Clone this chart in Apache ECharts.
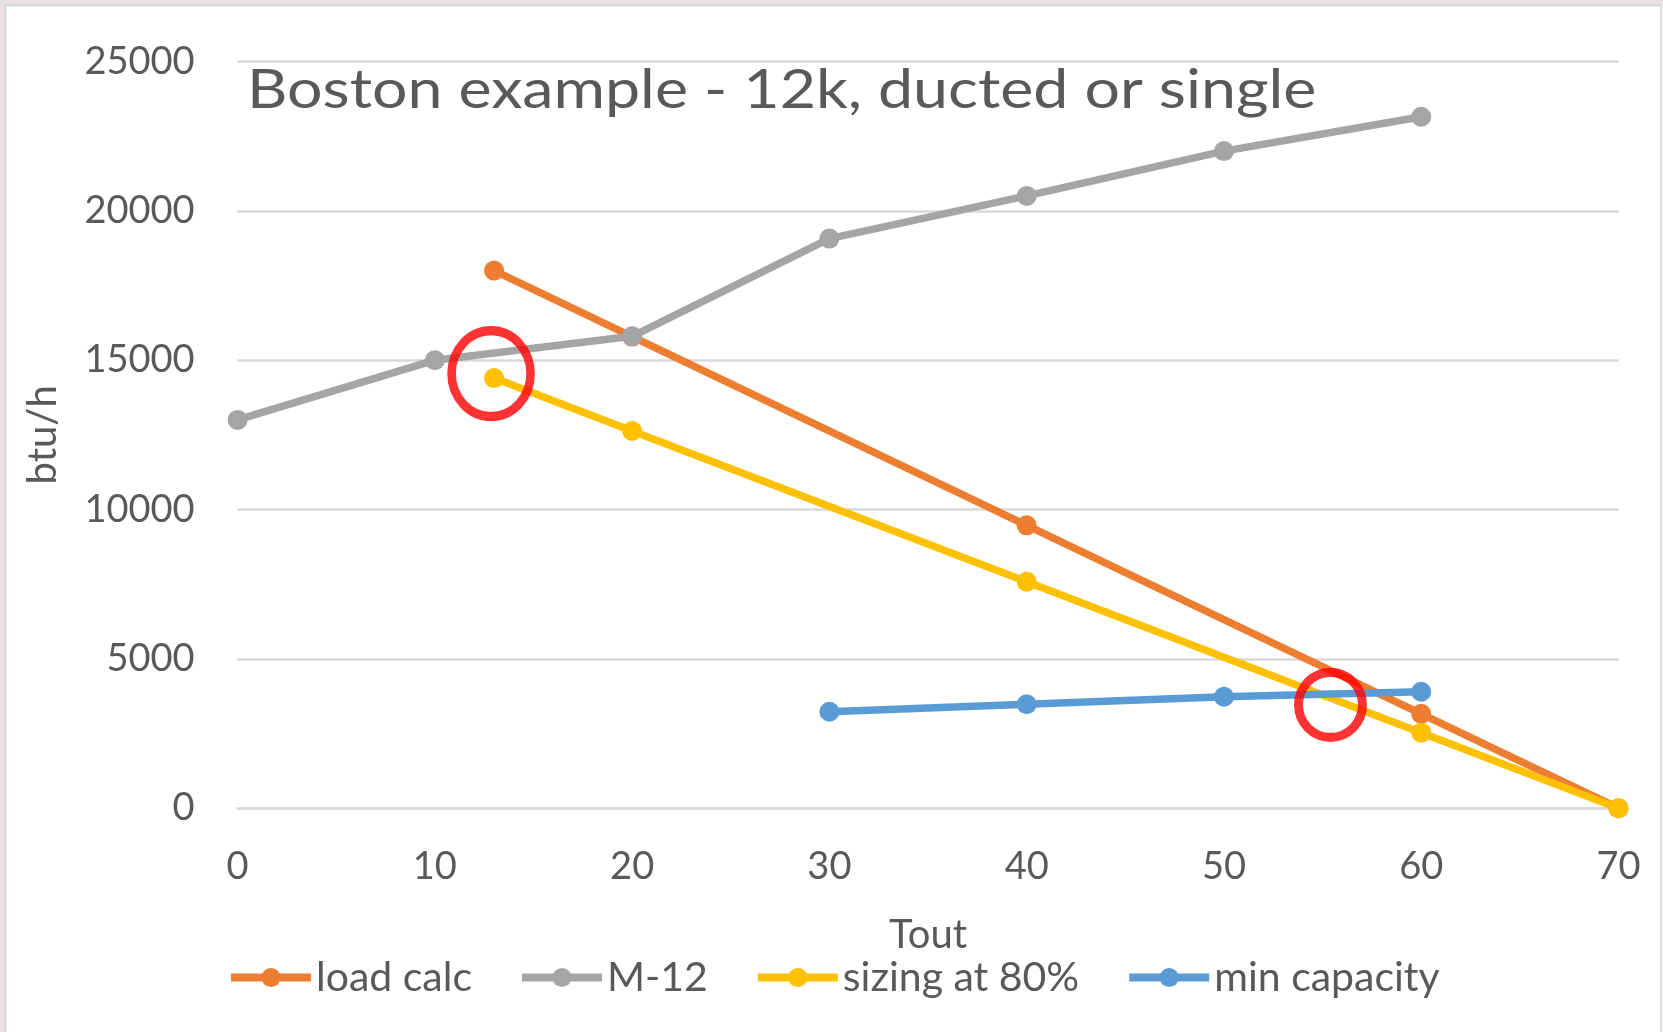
<!DOCTYPE html>
<html>
<head>
<meta charset="utf-8">
<title>Boston example - 12k, ducted or single</title>
<script src="https://cdn.jsdelivr.net/npm/echarts@6/dist/echarts.min.js"></script>
<style>
  html, body { margin: 0; padding: 0; background: #ffffff; }
  #chart { width: 1663px; height: 1032px; }
</style>
</head>
<body>
<div id="chart"></div>
<script>
// Outdoor temperature (Tout) and capacity / load in btu/h
const loadCalcT = [13, 20, 40, 60, 70];
const loadCalc  = [18000, 15790, 9470, 3160, 0];

const m12T = [0, 10, 20, 30, 40, 50, 60];
const m12  = [13000, 15000, 15800, 19070, 20500, 22000, 23150];

const sizingT = [13, 20, 40, 60, 70];
const sizing  = [14400, 12630, 7580, 2530, 0];

const minCapT = [30, 40, 50, 60];
const minCap  = [3230, 3480, 3730, 3900];

// Highlighted crossover points (Tout, btu/h)
const highlightT = [12.85, 55.4];
const highlightV = [14550, 3460];

const seriesNames = ['load calc', 'M-12', 'sizing at 80%', 'min capacity'];
const seriesColors = ['#ED7D31', '#A5A5A5', '#FFC000', '#5B9BD5'];

const FONT = 'Lato';
const TEXT = '#595959';
const LINE_W = 7.5;

function pairs(xs, ys) { return xs.map((x, i) => [x, ys[i]]); }

function lineSeries(idx, xs, ys) {
  return {
    name: seriesNames[idx],
    type: 'line',
    data: pairs(xs, ys),
    symbol: 'circle',
    symbolSize: 20,
    lineStyle: { width: LINE_W, color: seriesColors[idx] },
    itemStyle: { color: seriesColors[idx] },
    emphasis: { disabled: true },
    animation: false
  };
}

const chart = echarts.init(document.getElementById('chart'), null, { renderer: 'canvas' });

chart.setOption({
  backgroundColor: '#ffffff',
  animation: false,
  graphic: [
    { type: 'rect', z: -10, silent: true,
      shape: { x: 2.5, y: 2.5, width: 1700, height: 1100 },
      style: { fill: null, stroke: '#e9e1e1', lineWidth: 5 } },
    { type: 'rect', z: -10, silent: true,
      shape: { x: 5.5, y: 5.5, width: 1655.5, height: 1100 },
      style: { fill: null, stroke: '#d3cfcf', lineWidth: 1.5 } },
    // chart heading, drawn slightly widened
    { type: 'text', z: 10, silent: true,
      x: 247, y: 64, scaleX: 1.16, scaleY: 1,
      style: {
        text: 'Boston example - 12k, ducted or single',
        fontFamily: FONT, fontSize: 54, fontWeight: 'normal',
        fill: TEXT, textVerticalAlign: 'top'
      } }
  ],
  grid: { left: 237.6, right: 44.5, top: 61.5, bottom: 223.8, containLabel: false },
  legend: {
    data: seriesNames,
    left: 222,
    top: 952,
    itemWidth: 80,
    itemHeight: 24,
    itemGap: 46,
    lineStyle: { width: 8 },
    textStyle: { fontFamily: FONT, fontSize: 41, color: TEXT, padding: [0, 0, 0, 0] }
  },
  xAxis: {
    type: 'value',
    min: 0, max: 70, interval: 10,
    name: 'Tout',
    nameLocation: 'middle',
    nameGap: 107,
    nameTextStyle: { fontFamily: FONT, fontSize: 40, color: TEXT },
    axisLine: { show: true, lineStyle: { color: '#d9d9d9', width: 2.5 } },
    axisTick: { show: false },
    splitLine: { show: false },
    axisLabel: { margin: 40, fontFamily: FONT, fontSize: 38, color: TEXT }
  },
  yAxis: {
    type: 'value',
    min: 0, max: 25000, interval: 5000,
    name: 'btu/h',
    nameLocation: 'middle',
    nameGap: 175,
    nameTextStyle: { fontFamily: FONT, fontSize: 40, color: TEXT },
    axisLine: { show: false },
    axisTick: { show: false },
    splitLine: { show: true, lineStyle: { color: '#d9d9d9', width: 2.5 } },
    axisLabel: { margin: 43, fontFamily: FONT, fontSize: 38, color: TEXT,
                 formatter: function (v) { return String(v); } }
  },
  series: [
    lineSeries(0, loadCalcT, loadCalc),
    lineSeries(1, m12T, m12),
    lineSeries(2, sizingT, sizing),
    lineSeries(3, minCapT, minCap),
    {
      type: 'scatter',
      silent: true,
      z: 5,
      data: pairs(highlightT, highlightV),
      symbol: 'circle',
      symbolSize: function (v, p) { return p.dataIndex === 0 ? [79, 86] : [64, 65]; },
      itemStyle: { color: 'rgba(0,0,0,0)', borderColor: '#FF0000', borderWidth: 9 },
      animation: false
    }
  ]
});
</script>
</body>
</html>
